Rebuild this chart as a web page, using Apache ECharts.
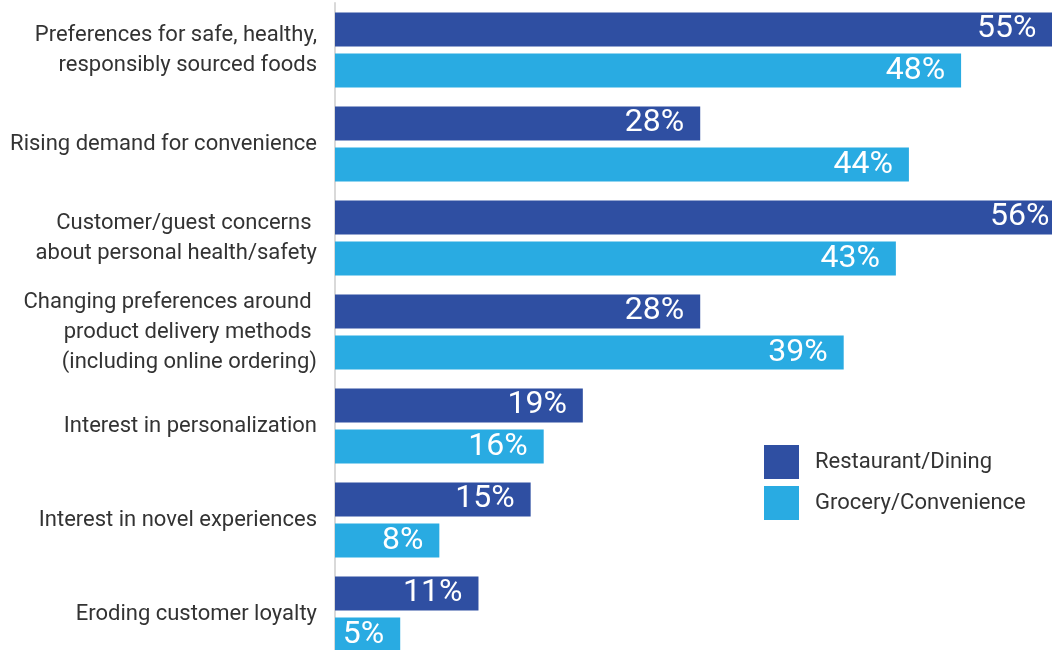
<!DOCTYPE html>
<html>
<head>
<meta charset="utf-8">
<script src="https://cdn.jsdelivr.net/npm/echarts@6/dist/echarts.min.js"></script>
<style>
  html, body { margin: 0; padding: 0; background: #ffffff; overflow: hidden; }
  /* the drawing area runs a little past the window so the longest bars continue off the edge */
  #chart { width: 1115px; height: 661px; }
</style>
</head>
<body>
<div id="chart"></div>
<script>
// Drivers of change, share of respondents by sector
const categories = [
  'Preferences for safe, healthy,\nresponsibly sourced foods',
  'Rising demand for convenience',
  'Customer/guest concerns \nabout personal health/safety',
  'Changing preferences around \nproduct delivery methods \n(including online ordering)',
  'Interest in personalization',
  'Interest in novel experiences',
  'Eroding customer loyalty'
];
const restaurantDining = [55, 28, 56, 28, 19, 15, 11];
const groceryConvenience = [48, 44, 43, 39, 16, 8, 5];
const seriesNames = ['Restaurant/Dining', 'Grocery/Convenience'];

const FONT = 'Roboto, "Noto Sans", sans-serif';

const valueLabel = {
  show: true,
  position: 'insideRight',
  distance: 16,
  color: '#ffffff',
  fontFamily: FONT,
  fontSize: 32,
  formatter: p => p.value + '%'
};

const chart = echarts.init(document.getElementById('chart'), null, { renderer: 'canvas' });
chart.setOption({
  animation: false,
  backgroundColor: '#ffffff',
  grid: { left: 335, top: 3, right: 0, bottom: 0, containLabel: false },
  legend: {
    orient: 'vertical',
    left: 759,
    top: 440,
    itemWidth: 35,
    itemHeight: 34,
    itemGap: 7,
    icon: 'rect',
    textStyle: { color: '#333333', fontFamily: FONT, fontSize: 22, padding: [0, 0, 0, 11] },
    data: seriesNames
  },
  xAxis: {
    type: 'value',
    min: 0,
    max: 59.8,
    show: false
  },
  yAxis: {
    type: 'category',
    inverse: true,
    data: categories,
    axisLine: { show: true, lineStyle: { color: '#d9d9d9', width: 2 } },
    axisTick: { show: false },
    axisLabel: {
      margin: 18,
      color: '#333333',
      fontFamily: FONT,
      fontSize: 22,
      lineHeight: 30,
      align: 'right',
      padding: [0, 0, 4, 0]
    }
  },
  series: [
    {
      name: seriesNames[0],
      type: 'bar',
      data: restaurantDining,
      barWidth: 34,
      barGap: '21%',
      itemStyle: { color: '#2f4fa2' },
      label: valueLabel
    },
    {
      name: seriesNames[1],
      type: 'bar',
      data: groceryConvenience,
      barWidth: 34,
      barGap: '21%',
      itemStyle: { color: '#29abe2' },
      label: valueLabel
    }
  ]
});
</script>
</body>
</html>
